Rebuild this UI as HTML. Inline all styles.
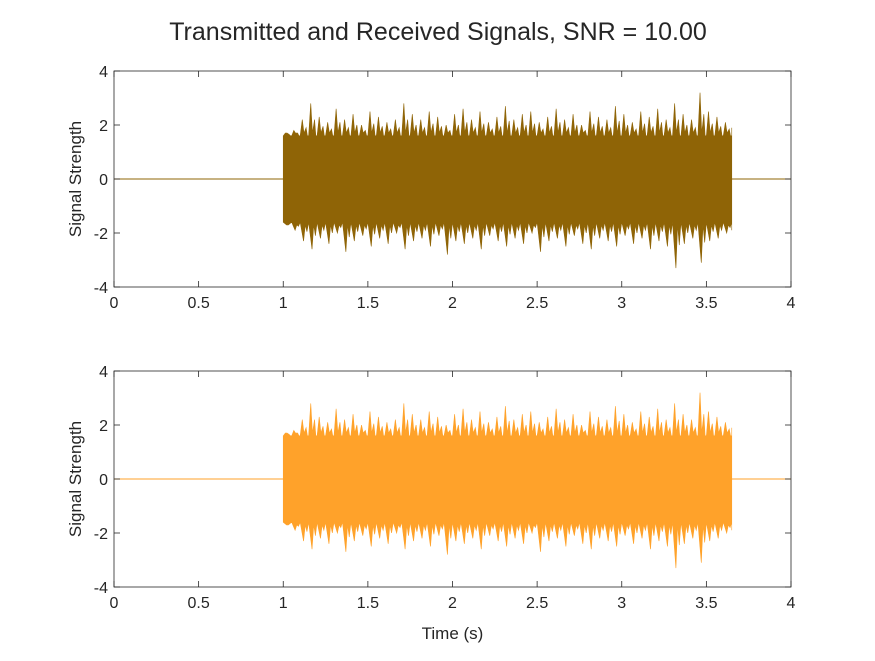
<!DOCTYPE html>
<html><head><meta charset="utf-8"><style>
body{margin:0;background:#fff;width:875px;height:656px;overflow:hidden}
text{font-family:"Liberation Sans",sans-serif;fill:#262626}
</style></head><body>
<svg id="c" width="875" height="656"></svg>
<script>
const xTicks=[0,0.5,1,1.5,2,2.5,3,3.5,4];
const yTicks=[-4,-2,0,2,4];
const sigStart=1.0, sigEnd=3.65, binStep=0.05;
const upperPeaks=[1.7,1.8,2.2,2.8,2.3,2.1,2.6,2.2,2.4,2.0,2.5,2.3,2.1,2.2,2.8,2.4,2.2,2.5,2.3,2.0,2.4,2.6,2.2,2.5,2.1,2.3,2.7,2.2,2.4,2.5,2.1,2.3,2.6,2.2,2.4,2.0,2.5,2.3,2.2,2.7,2.4,2.1,2.5,2.3,2.6,2.2,2.8,2.4,2.2,3.2,2.5,2.3,2.1,1.9];
const lowerPeaks=[-1.7,-1.9,-2.3,-2.6,-2.2,-2.4,-2.0,-2.7,-2.3,-2.1,-2.5,-2.2,-2.4,-2.0,-2.6,-2.3,-2.2,-2.5,-2.1,-2.8,-2.3,-2.4,-2.2,-2.6,-2.1,-2.3,-2.5,-2.2,-2.4,-2.0,-2.7,-2.3,-2.2,-2.5,-2.1,-2.4,-2.6,-2.2,-2.3,-2.5,-2.1,-2.4,-2.2,-2.6,-2.3,-2.5,-3.3,-2.4,-2.2,-3.1,-2.3,-2.2,-2.0,-1.9];
const coreAmp=1.6;
const NS='http://www.w3.org/2000/svg';
const svg=document.getElementById('c');
function el(t,a,p){const e=document.createElementNS(NS,t);for(const k in a)e.setAttribute(k,a[k]);(p||svg).appendChild(e);return e;}
const t=el('text',{x:438,y:40,'text-anchor':'middle','font-size':25});


t.textContent='Transmitted and Received Signals, SNR = 10.00';
const L=114,R=791;
function sx(v){return L+(Math.min(v,sigEnd>v?v:v))/4*(R-L);}
function cx(v){return sx(Math.min(v,sigEnd));}
function panel(top,color,name,xlabel){
  const B=top+216;
  const sy=v=>top+(4-v)/8*(B-top);
  const g=el('g',{});
  
  
  el('rect',{x:L,y:top,width:R-L,height:B-top,fill:'#fff',stroke:'#262626','stroke-width':0.8},g);
  const ln=el('line',{x1:sx(0),y1:sy(0),x2:sx(sigStart),y2:sy(0),stroke:color,'stroke-width':1},g);
  
  
  el('line',{x1:sx(sigEnd),y1:sy(0),x2:sx(4),y2:sy(0),stroke:color,'stroke-width':1},g);
  let up=[],lo=[];
  for(let i=0;i<upperPeaks.length;i++){
    const a=sigStart+i*binStep;
    up.push(`${cx(a)},${sy(coreAmp)}`,`${cx(a+binStep*0.25)},${sy(upperPeaks[i])}`,`${cx(a+binStep*0.45)},${sy(coreAmp+0.1)}`,`${cx(a+binStep*0.7)},${sy((upperPeaks[i]+coreAmp)/2)}`,`${cx(a+binStep*0.85)},${sy(coreAmp)}`);
    lo.push(`${cx(a)},${sy(-coreAmp)}`,`${cx(a+binStep*0.4)},${sy(lowerPeaks[i])}`,`${cx(a+binStep*0.6)},${sy(-coreAmp-0.1)}`,`${cx(a+binStep*0.8)},${sy((lowerPeaks[i]-coreAmp)/2)}`);
  }
  up.push(`${sx(sigEnd)},${sy(coreAmp)}`);
  lo.push(`${sx(sigEnd)},${sy(-coreAmp)}`);
  const pts=[`${sx(sigStart)},${sy(0)}`].concat(up,lo.reverse(),[`${sx(sigStart)},${sy(0)}`]);
  const p=el('polygon',{points:pts.join(' '),fill:color,stroke:color,'stroke-width':0.6},g);
  
  
  xTicks.forEach(v=>{
    el('line',{x1:sx(v),y1:B,x2:sx(v),y2:B-6,stroke:'#262626','stroke-width':0.8},g);
    el('line',{x1:sx(v),y1:top,x2:sx(v),y2:top+6,stroke:'#262626','stroke-width':0.8},g);
    const tx=el('text',{x:sx(v),y:B+21,'text-anchor':'middle','font-size':16},g);
    
    
    tx.textContent=v;
  });
  yTicks.forEach(v=>{
    el('line',{x1:L,y1:sy(v),x2:L+6,y2:sy(v),stroke:'#262626','stroke-width':0.8},g);
    el('line',{x1:R,y1:sy(v),x2:R-6,y2:sy(v),stroke:'#262626','stroke-width':0.8},g);
    const tx=el('text',{x:L-6,y:sy(v)+6,'text-anchor':'end','font-size':16},g);
    
    
    tx.textContent=v;
  });
  const yl=el('text',{x:0,y:0,transform:`translate(81,${(top+B)/2}) rotate(-90)`,'text-anchor':'middle','font-size':17},g);
  
  
  yl.textContent='Signal Strength';
  if(xlabel){
    const xl=el('text',{x:(L+R)/2,y:B+52,'text-anchor':'middle','font-size':17},g);
    
    
    xl.textContent=xlabel;
  }
}
panel(71,'#8f6406','transmitted-panel',null);
panel(371,'#ffa22a','received-panel','Time (s)');
</script>
</body></html>
